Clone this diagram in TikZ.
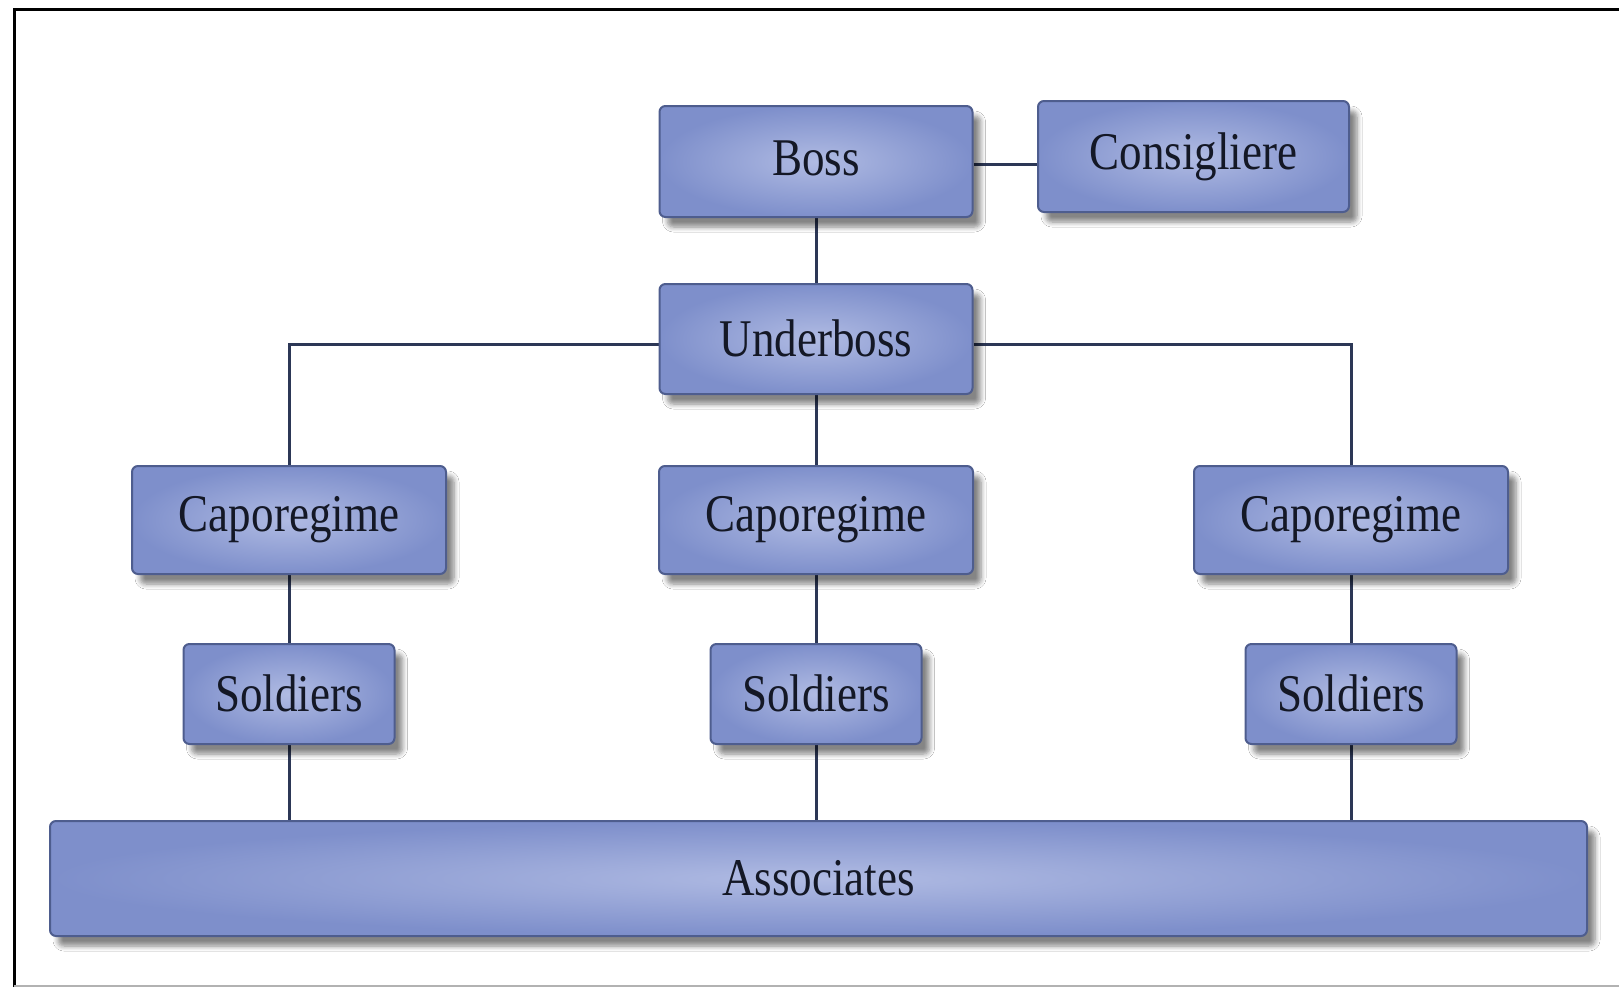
\documentclass[tikz,border=0pt]{standalone}
\usepackage{fontspec}
\newfontfamily\boxfont[FakeStretch=0.85]{Liberation Serif}
\usetikzlibrary{shadows.blur,backgrounds}
\definecolor{boxedge}{HTML}{4E5D8E}
\definecolor{boxin}{HTML}{B0BBE3}
\definecolor{boxout}{HTML}{7E8FCB}
\definecolor{linec}{HTML}{2C3756}
\definecolor{txt}{HTML}{141826}
\begin{document}
\begin{tikzpicture}[x=0.5pt,y=-0.5pt,
  orgbox/.style={draw=boxedge, line width=1pt, rounded corners=3pt,
    inner color=boxin, outer color=boxout,
    blur shadow={shadow xshift=4pt, shadow yshift=-5pt, shadow opacity=48, shadow blur steps=6, shadow blur radius=2.5pt},
    font=\boxfont\fontsize{26.5}{30}\selectfont, text=txt, inner sep=0pt},
  link/.style={draw=linec, line width=1.5pt}]
\useasboundingbox (0,0) rectangle (1619,987);

\node[orgbox, minimum width=156.5pt, minimum height=55.5pt] (boss) at (816,161.5) {\raisebox{3pt}{Boss}};
\node[orgbox, minimum width=155.5pt, minimum height=55.5pt] (cons) at (1193.5,156.5) {Consigliere};
\node[orgbox, minimum width=156.5pt, minimum height=55pt] (under) at (816,339) {\raisebox{1pt}{Underboss}};
\node[orgbox, minimum width=157pt, minimum height=54pt] (capL) at (289,520) {Caporegime};
\node[orgbox, minimum width=157pt, minimum height=54pt] (capM) at (816,520) {Caporegime};
\node[orgbox, minimum width=157pt, minimum height=54pt] (capR) at (1351,520) {Caporegime};
\node[orgbox, minimum width=105.5pt, minimum height=50pt] (solL) at (289,694) {\raisebox{1pt}{Soldiers}};
\node[orgbox, minimum width=105.5pt, minimum height=50pt] (solM) at (816,694) {\raisebox{1pt}{Soldiers}};
\node[orgbox, minimum width=105.5pt, minimum height=50pt] (solR) at (1351,694) {\raisebox{1pt}{Soldiers}};
\node[orgbox, minimum width=768.5pt, minimum height=57.5pt] (assoc) at (818.5,878.5) {Associates};

\begin{scope}[on background layer]
\fill[white] (0,0) rectangle (1619,987);
\draw[black, line width=1.5pt] (14,987) -- (14,9) -- (1619,9);
\draw[black!30, line width=1pt] (14,985.5) -- (1619,985.5);
\draw[link] ([yshift=-1.5pt]boss.east) -- ([yshift=-1.5pt]boss.east -| cons.west);
\draw[link] (boss.south) -- (under.north);
\draw[link] ([yshift=-2.5pt]under.west) -| (capL.north);
\draw[link] ([yshift=-2.5pt]under.east) -| (capR.north);
\draw[link] (under.south) -- (capM.north);
\draw[link] (capL.south) -- (solL.north);
\draw[link] (capM.south) -- (solM.north);
\draw[link] (capR.south) -- (solR.north);
\draw[link] (solL.south) -- (solL.south |- assoc.north);
\draw[link] (solM.south) -- (solM.south |- assoc.north);
\draw[link] (solR.south) -- (solR.south |- assoc.north);
\end{scope}
\end{tikzpicture}
\end{document}
